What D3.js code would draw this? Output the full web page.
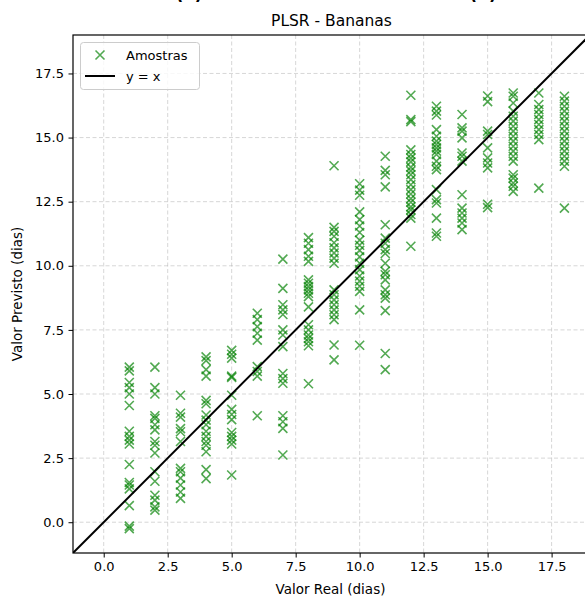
<!DOCTYPE html>
<html>
<head>
<meta charset="utf-8">
<script src="https://cdn.jsdelivr.net/npm/d3@7"></script>
<style>
  html, body { margin: 0; padding: 0; background: #fff; }
  svg { display: block; }
  text { font-family: "DejaVu Sans", sans-serif; }
</style>
</head>
<body>
<svg id="chart" width="585" height="601"></svg>
<script>
// Predicted shelf life (days) for each real value (days)
const day1  = [6.05, 5.9, 5.45, 5.25, 5.0, 4.55, 3.55, 3.35, 3.2, 3.05, 2.25, 1.55, 1.45, 1.3, 0.65, -0.15, -0.25];
const day2  = [6.05, 5.25, 5.0, 4.15, 4.05, 3.8, 3.6, 3.15, 3.0, 2.7, 1.97, 1.6, 1.05, 0.86, 0.6, 0.47];
const day3  = [4.95, 4.25, 4.1, 3.65, 3.53, 3.15, 2.1, 1.97, 1.72, 1.45, 1.18, 0.93];
const day4  = [6.45, 6.3, 5.95, 5.7, 4.75, 4.62, 4.18, 3.98, 3.8, 3.55, 3.35, 3.15, 3.0, 2.75, 2.05, 1.7];
const day5  = [6.7, 6.55, 6.4, 5.7, 5.65, 4.95, 4.4, 4.2, 4.0, 3.5, 3.35, 3.2, 3.05, 1.84];
const day6  = [8.15, 7.9, 7.63, 7.37, 7.1, 6.07, 5.88, 5.7, 4.15];
const day7  = [10.26, 9.12, 8.48, 8.28, 8.1, 7.5, 7.3, 6.85, 5.8, 5.6, 5.42, 4.15, 3.92, 3.66, 2.62];
const day8  = [11.1, 10.88, 10.63, 10.37, 10.17, 9.45, 9.32, 9.19, 9.06, 8.93, 8.8, 8.4, 7.7, 7.5, 7.3, 7.17, 7.04, 6.88, 5.4];
const day9  = [13.9, 11.5, 11.34, 11.15, 10.9, 10.7, 10.5, 10.3, 10.1, 9.06, 8.87, 8.67, 8.48, 8.28, 8.09, 7.9, 6.91, 6.33];
const day10 = [13.2, 12.95, 12.75, 12.1, 11.8, 11.55, 11.3, 11.0, 10.8, 10.6, 10.35, 10.1, 9.85, 9.6, 9.4, 9.2, 9.0, 8.28, 6.9];
const day11 = [14.27, 13.72, 13.55, 13.08, 11.6, 11.08, 10.88, 10.63, 10.48, 10.1, 9.78, 9.65, 9.45, 9.06, 8.87, 8.74, 8.25, 6.58, 5.95];
const day12 = [16.65, 15.7, 15.62, 14.52, 14.34, 14.2, 14.05, 13.85, 13.7, 13.55, 13.36, 13.16, 12.97, 12.8, 12.62, 12.48, 12.3, 12.18, 12.0, 11.86, 10.76];
const day13 = [16.22, 16.03, 15.88, 15.31, 15.05, 14.86, 14.73, 14.6, 14.47, 14.34, 14.08, 13.88, 13.75, 12.97, 12.58, 12.45, 11.86, 11.28, 11.15];
const day14 = [15.9, 15.38, 15.25, 14.99, 14.4, 14.27, 14.08, 12.77, 12.25, 12.06, 11.86, 11.67, 11.41];
const day15 = [16.62, 16.4, 15.25, 15.12, 14.6, 14.21, 14.01, 13.82, 12.4, 12.27];
const day16 = [16.74, 16.61, 16.35, 16.03, 15.83, 15.64, 15.44, 15.25, 15.05, 14.86, 14.66, 14.47, 14.27, 14.08, 13.55, 13.42, 13.23, 13.1, 12.9];
const day17 = [16.74, 16.29, 16.09, 15.9, 15.7, 15.51, 15.31, 15.12, 14.92, 13.03];
const day18 = [16.61, 16.42, 16.22, 16.03, 15.83, 15.64, 15.44, 15.25, 15.05, 14.86, 14.66, 14.47, 14.27, 14.08, 13.88, 12.25];

const realDays = [1, 2, 3, 4, 5, 6, 7, 8, 9, 10, 11, 12, 13, 14, 15, 16, 17, 18];
const predictedByDay = [day1, day2, day3, day4, day5, day6, day7, day8, day9,
                        day10, day11, day12, day13, day14, day15, day16, day17, day18];

const tickValues = [0, 2.5, 5, 7.5, 10, 12.5, 15, 17.5];
const axisLimits = [-1.2, 19];

const chartTitle = "PLSR - Bananas";
const xLabel = "Valor Real (dias)";
const yLabel = "Valor Previsto (dias)";
const legendLabels = ["Amostras", "y = x"];

// Flatten into (real, predicted) pairs
const samples = [];
realDays.forEach((d, i) => predictedByDay[i].forEach(p => samples.push({ real: d, pred: p })));

const svg = d3.select("#chart");
const plot = { left: 73, top: 35, right: 590, bottom: 553 };

const x = d3.scaleLinear().domain(axisLimits).range([plot.left, plot.right]);
const y = d3.scaleLinear().domain(axisLimits).range([plot.bottom, plot.top]);

svg.append("defs").append("clipPath").attr("id", "plotClip")
  .append("rect")
  .attr("x", plot.left).attr("y", plot.top)
  .attr("width", plot.right - plot.left).attr("height", plot.bottom - plot.top);

// Panel captions above the title (only their lower edge is in view)
svg.append("text").attr("x", 189).attr("y", -0.5)
  .attr("text-anchor", "middle").attr("font-size", 17).attr("font-weight", "bold")
  .text("(a)");
svg.append("text").attr("x", 483).attr("y", -0.5)
  .attr("text-anchor", "middle").attr("font-size", 17).attr("font-weight", "bold")
  .text("(b)");

// Grid
const grid = svg.append("g").attr("clip-path", "url(#plotClip)");
grid.selectAll("line.gx").data(tickValues).join("line")
  .attr("class", "gx")
  .attr("x1", d => x(d)).attr("x2", d => x(d))
  .attr("y1", plot.top).attr("y2", plot.bottom)
  .attr("stroke", "#b0b0b0").attr("stroke-opacity", 0.5)
  .attr("stroke-width", 1).attr("stroke-dasharray", "4,2.5");
grid.selectAll("line.gy").data(tickValues).join("line")
  .attr("class", "gy")
  .attr("y1", d => y(d)).attr("y2", d => y(d))
  .attr("x1", plot.left).attr("x2", plot.right)
  .attr("stroke", "#b0b0b0").attr("stroke-opacity", 0.5)
  .attr("stroke-width", 1).attr("stroke-dasharray", "4,2.5");

// Sample markers ("x")
const r = 4.5;
const marks = svg.append("g").attr("clip-path", "url(#plotClip)");
marks.selectAll("path.pt").data(samples).join("path")
  .attr("class", "pt")
  .attr("d", d => {
    const cx = x(d.real), cy = y(d.pred);
    return `M${cx - r},${cy - r}L${cx + r},${cy + r}M${cx - r},${cy + r}L${cx + r},${cy - r}`;
  })
  .attr("stroke", "green").attr("stroke-opacity", 0.68)
  .attr("stroke-width", 1.6).attr("fill", "none");

// Identity line
marks.append("line")
  .attr("x1", x(axisLimits[0])).attr("y1", y(axisLimits[0]))
  .attr("x2", x(axisLimits[1])).attr("y2", y(axisLimits[1]))
  .attr("stroke", "#000").attr("stroke-width", 2);

// Axes
const fmt = d3.format(".1f");
const xAxis = svg.append("g").attr("transform", `translate(0,${plot.bottom})`)
  .call(d3.axisBottom(x).tickValues(tickValues).tickFormat(fmt).tickSize(4.5).tickPadding(4.5).tickSizeOuter(0));
const yAxis = svg.append("g").attr("transform", `translate(${plot.left},0)`)
  .call(d3.axisLeft(y).tickValues(tickValues).tickFormat(fmt).tickSize(4.5).tickPadding(4.5).tickSizeOuter(0));
[xAxis, yAxis].forEach(a => {
  a.selectAll("text").attr("font-size", 13).attr("fill", "#000")
    .attr("font-family", "DejaVu Sans, sans-serif");
  a.selectAll("line").attr("stroke", "#000").attr("stroke-width", 1);
  a.select(".domain").remove();
});

// Frame
svg.append("rect")
  .attr("x", plot.left).attr("y", plot.top)
  .attr("width", plot.right - plot.left).attr("height", plot.bottom - plot.top)
  .attr("fill", "none").attr("stroke", "#000").attr("stroke-width", 1.2);

// Title and axis labels
svg.append("text").attr("x", (plot.left + plot.right) / 2).attr("y", 26)
  .attr("text-anchor", "middle").attr("font-size", 15.5).text(chartTitle);
svg.append("text").attr("x", (plot.left + plot.right) / 2 - 1).attr("y", 594)
  .attr("text-anchor", "middle").attr("font-size", 13.5).text(xLabel);
svg.append("text")
  .attr("transform", `translate(22,${(plot.top + plot.bottom) / 2}) rotate(-90)`)
  .attr("text-anchor", "middle").attr("font-size", 13.5).text(yLabel);

// Legend
const lg = svg.append("g");
lg.append("rect").attr("x", 80.5).attr("y", 42.5).attr("width", 119).attr("height", 47)
  .attr("rx", 3).attr("fill", "#fff").attr("fill-opacity", 0.8)
  .attr("stroke", "#ccc").attr("stroke-width", 1);
lg.append("path")
  .attr("d", `M${100 - r},${55 - r}L${100 + r},${55 + r}M${100 - r},${55 + r}L${100 + r},${55 - r}`)
  .attr("stroke", "green").attr("stroke-opacity", 0.68).attr("stroke-width", 1.6);
lg.append("line").attr("x1", 85).attr("x2", 115).attr("y1", 76).attr("y2", 76)
  .attr("stroke", "#000").attr("stroke-width", 2);
lg.append("text").attr("x", 126).attr("y", 59.5).attr("font-size", 13).text(legendLabels[0]);
lg.append("text").attr("x", 126).attr("y", 80.5).attr("font-size", 13).text(legendLabels[1]);
</script>
</body>
</html>
